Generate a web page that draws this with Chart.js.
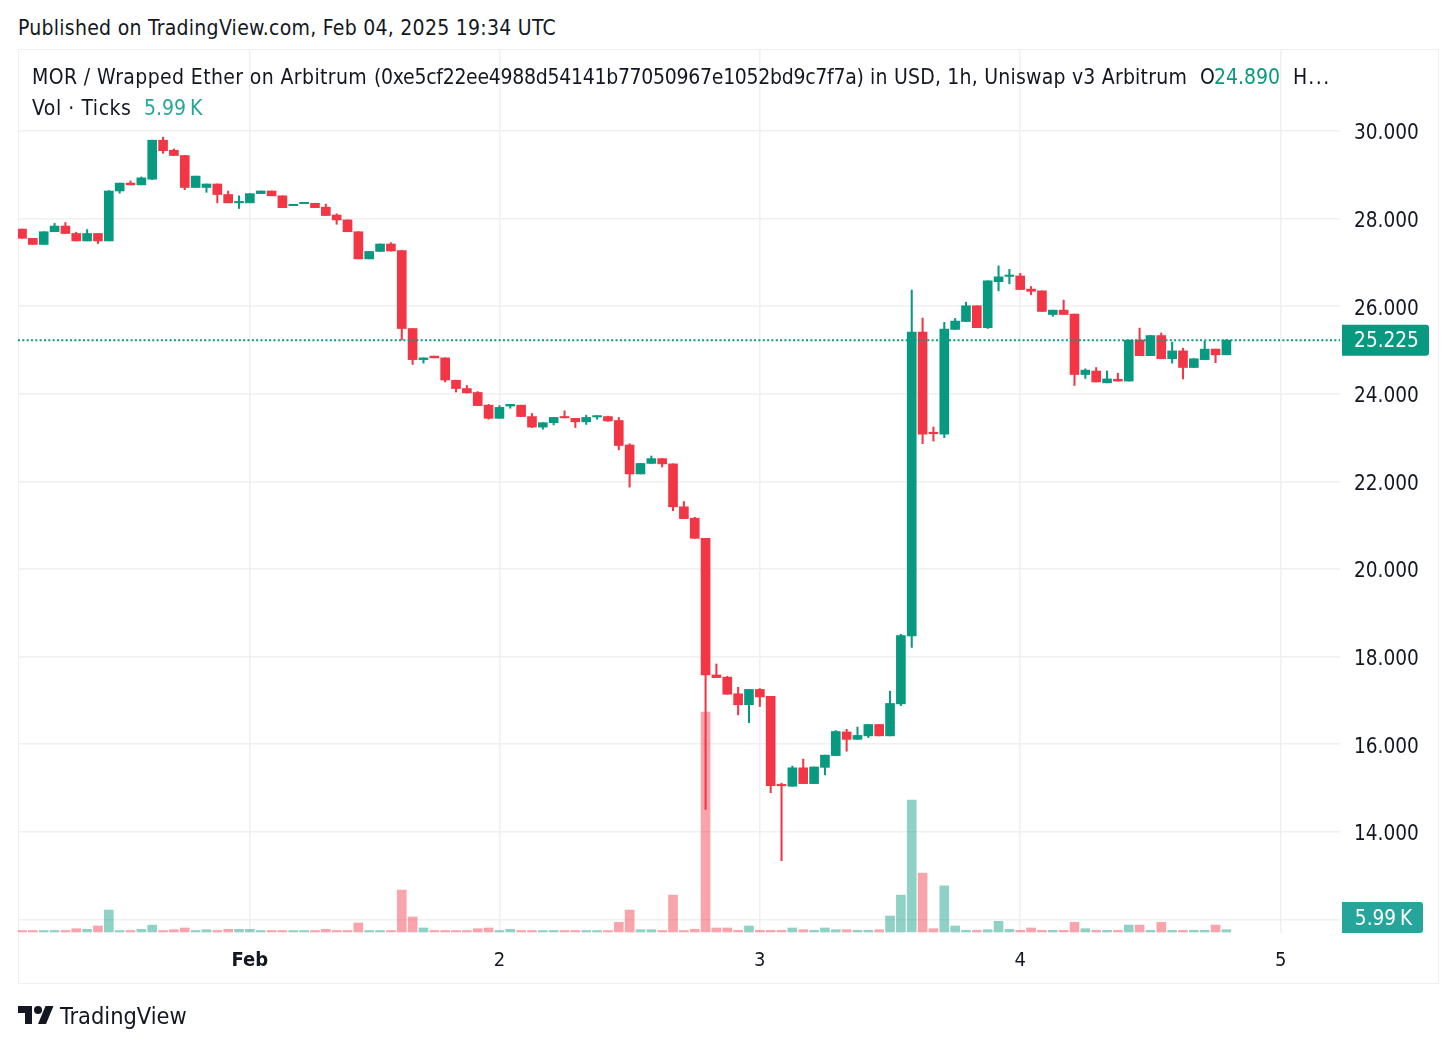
<!DOCTYPE html>
<html>
<head>
<meta charset="utf-8">
<script src="https://cdn.jsdelivr.net/npm/chart.js@4"></script>
<style>
html,body{margin:0;padding:0;background:#fff;width:1456px;height:1047px;overflow:hidden}
body{position:relative;font-family:"DejaVu Sans Condensed","DejaVu Sans",sans-serif;color:#131722}
.t{position:absolute;white-space:pre;font-size:21px;line-height:24px}
#frame{position:absolute;left:18px;top:49px;width:1419px;height:933px;border:1px solid #f0f0f0}
canvas{position:absolute;left:0;top:0}
.g{color:#089981}.v{color:#26a69a}
</style>
</head>
<body>
<div class="t" style="left:18px;top:16px;letter-spacing:.27px">Published on TradingView.com, Feb 04, 2025 19:34 UTC</div>
<div id="frame"></div>
<canvas id="c" width="1456" height="1047"></canvas>
<div class="t" style="left:32px;top:65px;letter-spacing:.39px">MOR / Wrapped Ether on Arbitrum</div>
<div class="t" style="left:374px;top:65px;letter-spacing:-.28px">(0xe5cf22ee4988d54141b77050967e1052bd9c7f7a)</div>
<div class="t" style="left:870px;top:65px;letter-spacing:.22px">in USD, 1h, Uniswap v3 Arbitrum</div>
<div class="t" style="left:1200px;top:65px">O</div>
<div class="t g" style="left:1214px;top:65px">24.890</div>
<div class="t" style="left:1293px;top:65px;letter-spacing:1.5px">H...</div>
<div class="t" style="left:32px;top:96px;letter-spacing:.55px">Vol · Ticks</div>
<div class="t v" style="left:144px;top:96px;word-spacing:-2px">5.99 K</div>
<svg style="position:absolute;left:18px;top:1006px" width="36" height="18" viewBox="0 4 36 18"><path fill="#131722" d="M14 22H7V11H0V4h14v18zM28 22h-8l7.5-18h8L28 22z"/><circle fill="#131722" cx="20" cy="8" r="4"/></svg>
<div class="t" style="left:60px;top:1004px;font-size:23.4px">TradingView</div>
<script>
const opens=[27.76,27.55,27.41,27.70,27.83,27.66,27.49,27.66,27.49,28.63,28.81,28.77,28.90,29.79,29.56,29.44,28.71,28.71,28.79,28.55,28.36,28.36,28.57,28.63,28.52,28.295,28.34,28.35,28.26,28.08,
27.97,27.70,27.08,27.25,27.42,27.27,25.49,24.78,24.86,24.82,24.31,24.12,24.03,23.74,23.44,23.72,23.74,23.48,23.24,23.34,23.48,23.44,23.36,23.47,23.48,23.39,22.83,22.17,22.41,22.52,
22.40,21.42,21.16,20.70,17.58,17.53,17.15,16.90,17.25,17.09,15.08,15.04,15.46,15.10,15.47,15.74,16.28,16.11,16.19,16.45,16.19,16.92,18.47,25.41,23.12,23.08,25.47,25.65,26.01,25.51,
26.56,26.68,26.69,26.39,26.35,25.81,25.91,25.82,24.44,24.52,24.25,24.33,24.29,25.23,24.87,25.33,24.80,24.98,24.60,24.78,25.02,24.89];
const highs=[27.76,27.55,27.70,27.89,27.91,27.69,27.75,27.66,28.64,28.81,28.86,28.95,29.79,29.86,29.59,29.44,28.97,28.79,28.79,28.63,28.52,28.57,28.63,28.63,28.52,28.32,28.37,28.35,28.33,28.11,
27.97,27.70,27.25,27.42,27.45,27.27,25.49,24.82,24.86,24.82,24.31,24.19,24.05,23.76,23.73,23.76,23.74,23.55,23.34,23.46,23.61,23.44,23.51,23.50,23.49,23.46,22.86,22.41,22.58,22.52,
22.40,21.54,21.18,20.70,17.83,17.55,17.30,17.25,17.27,17.09,15.11,15.50,15.66,15.48,15.75,16.31,16.34,16.39,16.45,16.45,17.21,18.51,26.37,25.73,23.24,25.63,25.72,26.09,26.01,26.58,
26.92,26.84,26.75,26.45,26.35,25.91,26.14,25.82,24.57,24.60,24.52,24.47,25.23,25.50,25.33,25.39,25.18,25.04,24.80,25.20,25.02,25.24];
const lows=[27.55,27.41,27.41,27.70,27.66,27.49,27.49,27.43,27.49,28.58,28.77,28.77,28.89,29.49,29.44,28.66,28.71,28.60,28.36,28.36,28.23,28.36,28.57,28.52,28.25,28.295,28.34,28.25,28.07,27.87,
27.70,27.08,27.08,27.25,27.26,25.23,24.67,24.70,24.82,24.27,24.04,24.02,23.73,23.42,23.44,23.67,23.48,23.23,23.19,23.29,23.45,23.23,23.30,23.42,23.37,22.72,21.87,22.17,22.41,22.33,
21.33,21.15,20.70,14.51,17.52,17.14,16.67,16.49,16.86,14.89,13.34,15.04,15.10,15.10,15.30,15.74,15.84,16.11,16.15,16.19,16.19,16.88,18.21,22.86,22.92,23.00,25.47,25.65,25.51,25.49,
26.35,26.51,26.38,26.26,25.88,25.77,25.81,24.19,24.35,24.27,24.25,24.29,24.29,24.87,24.87,24.80,24.70,24.34,24.60,24.78,24.71,24.89];
const closes=[27.55,27.41,27.70,27.83,27.66,27.49,27.66,27.49,28.63,28.81,28.77,28.93,29.79,29.55,29.44,28.71,28.97,28.79,28.55,28.36,28.38,28.57,28.63,28.52,28.25,28.32,28.37,28.25,28.07,27.97,
27.70,27.08,27.25,27.42,27.26,25.49,24.78,24.82,24.82,24.315,24.12,24.02,23.73,23.44,23.69,23.76,23.48,23.24,23.34,23.46,23.45,23.36,23.46,23.50,23.38,22.82,22.17,22.41,22.52,22.40,
21.42,21.15,20.70,17.58,17.52,17.14,16.90,17.25,17.08,15.05,15.05,15.46,15.10,15.48,15.75,16.29,16.11,16.20,16.45,16.19,16.93,18.48,25.41,23.08,23.09,25.48,25.66,26.01,25.51,26.58,
26.67,26.71,26.38,26.34,25.88,25.91,25.81,24.44,24.54,24.27,24.34,24.29,25.225,24.87,25.33,24.80,24.98,24.60,24.80,25.02,24.89,25.225];
const volumes=[3.9,3.9,3.9,3.9,3.9,8.6,7,15.6,57,3.9,3.9,7,18,3.9,6,10.4,3.9,6,3.9,7,7,7,3.9,3.9,3.9,3.9,3.9,3.9,7,3.9,
3.9,23.4,3.9,3.9,3.9,109,39,10.4,3.9,3.9,3.9,3.9,8.6,10.4,3.9,7,3.9,3.9,3.9,3.9,3.9,3.9,3.9,3.9,3.9,25,57,6,6,3.9,
96,3.9,7,572,10.4,10.4,4.4,15.6,4.4,4.4,4.4,10.4,6,4.4,10.4,6,6,4.4,4.4,6,41.6,96,343,153,8.6,120,15.6,4.4,4.4,6,
27.8,7,4.4,10.4,4.4,4.4,4.4,25,8.6,4.4,4.4,4.4,18,18,4.4,25,4.4,4.4,4.4,4.4,18,5.99];
const priceTicks=[12,14,16,18,20,22,24,26,28,30];
const hiddenPriceLabels=[12];
const timeTickIndex=[21,44,68,92,116];
const timeTickLabels=["Feb","2","3","4","5"];
const lastClose=25.225, lastVolumeLabel="5.99 K", lastVolume=5.99;

const GREEN="#089981",RED="#F23645",GREENV="rgba(8,153,129,0.45)",REDV="rgba(242,54,69,0.45)",GRID="#f0f0f0";
const FONT='"DejaVu Sans Condensed","DejaVu Sans",sans-serif';
const xMin=-0.369,xMax=121.47,yMin=11.689,yMax=31.872;
const up=i=>closes[i]>=opens[i];
const idx=opens.map((_,i)=>i);

function roundBox(ctx,x,y,w,h,r){ctx.beginPath();ctx.moveTo(x,y);ctx.lineTo(x+w-r,y);ctx.quadraticCurveTo(x+w,y,x+w,y+r);ctx.lineTo(x+w,y+h-r);ctx.quadraticCurveTo(x+w,y+h,x+w-r,y+h);ctx.lineTo(x,y+h);ctx.closePath();}
const badges={id:'badges',afterDraw(ch){
  const c=ch.ctx,a=ch.chartArea;
  const items=[[ch.scales.y.getPixelForValue(lastClose),lastClose.toFixed(3),GREEN,87],[ch.scales.v.getPixelForValue(lastVolume),lastVolumeLabel,"#26a69a",81]];
  c.save();c.font='20.6px '+FONT;c.textAlign='center';c.textBaseline='middle';c.wordSpacing='-2px';
  items.forEach(([py,txt,col,w])=>{
    const h=31,cy=Math.min(py,a.bottom-h/2);
    c.fillStyle=col;roundBox(c,a.right+2,cy-h/2,w,h,3);c.fill();
    c.fillStyle='#fff';c.fillText(txt,a.right+3+w/2,cy+2);
  });
  c.restore();
}};

new Chart(document.getElementById('c'),{
  type:'bar',
  plugins:[badges],
  data:{datasets:[
    {type:'line',label:'last',data:[{x:xMin,y:lastClose},{x:xMax,y:lastClose}],borderColor:GREEN,borderWidth:2,borderDash:[2,2.33],pointRadius:0,yAxisID:'y',order:0},
    {label:'body',data:idx.map(i=>({x:i,y:[opens[i],closes[i]]})),backgroundColor:idx.map(i=>up(i)?GREEN:RED),barThickness:9,minBarLength:1.4,yAxisID:'y',order:1},
    {label:'wick',data:idx.map(i=>({x:i,y:[lows[i],highs[i]]})),backgroundColor:idx.map(i=>up(i)?GREEN:RED),barThickness:1.4,yAxisID:'y',order:2},
    {label:'volume',data:idx.map(i=>({x:i,y:volumes[i]})),backgroundColor:idx.map(i=>up(i)?GREENV:REDV),barThickness:9,yAxisID:'v',order:3}
  ]},
  options:{
    responsive:false,animation:false,
    layout:{padding:{left:18,top:49,right:0,bottom:0}},
    plugins:{legend:{display:false},tooltip:{enabled:false},title:{display:false}},
    datasets:{bar:{grouped:false,borderWidth:0}},
    scales:{
      x:{type:'linear',offset:false,min:xMin,max:xMax,
        afterBuildTicks(s){s.ticks=timeTickIndex.map(v=>({value:v}));},
        afterFit(s){s.height=114;},
        border:{display:false},
        grid:{color:GRID,lineWidth:1.5,drawTicks:false,offset:false},
        ticks:{autoSkip:false,maxRotation:0,padding:16,color:'#131722',
          callback:v=>timeTickLabels[timeTickIndex.indexOf(v)],
          font:ctx=>({family:FONT,size:20,weight:ctx.index===0?'bold':'normal'})}},
      y:{type:'linear',position:'right',min:yMin,max:yMax,
        afterBuildTicks(s){s.ticks=priceTicks.map(v=>({value:v}));},
        afterFit(s){s.width=116;},
        border:{display:false},
        grid:{color:GRID,lineWidth:1.5,drawTicks:false},
        ticks:{padding:14,color:'#131722',autoSkip:false,labelOffset:3,
          callback:v=>hiddenPriceLabels.includes(v)?'':v.toFixed(3),
          font:{family:FONT,size:20.6}}},
      v:{type:'linear',display:false,min:-2.6,max:2296,grid:{display:false}}
    }
  }
});
</script>
</body>
</html>
